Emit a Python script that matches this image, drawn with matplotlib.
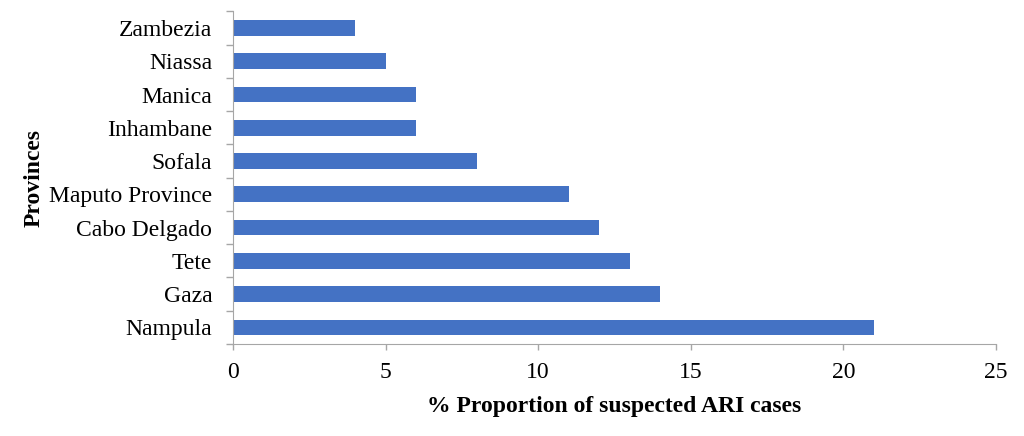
# Horizontal bar chart: suspected ARI cases by province
import numpy as np
import matplotlib.pyplot as plt

plt.rcParams['font.family'] = ['Liberation Serif', 'DejaVu Serif']

provinces = ['Nampula', 'Gaza', 'Tete', 'Cabo Delgado', 'Maputo Province',
             'Sofala', 'Inhambane', 'Manica', 'Niassa', 'Zambezia']
values = [21, 14, 13, 12, 11, 8, 6, 6, 5, 4]

fig = plt.figure(figsize=(10.24, 4.36), dpi=100)
ax = fig.add_axes([0.2275, 0.211, 0.745, 0.763])

y = np.arange(len(provinces))
ax.barh(y, values, height=0.47, color='#4472C4')

ax.set_xlim(0, 25)
ax.set_ylim(-0.5, len(provinces) - 0.5)
ax.set_xticks([0, 5, 10, 15, 20, 25])
ax.set_yticks(y, provinces)
ax.set_yticks(np.arange(-0.5, len(provinces)), minor=True)

ax.tick_params(axis='y', which='major', length=0, pad=15, labelsize=17)
ax.tick_params(axis='y', which='minor', length=5, color='#A6A6A6', width=1)
ax.tick_params(axis='x', length=4, color='#A6A6A6', width=1, pad=9, labelsize=17)

for s in ['top', 'right']:
    ax.spines[s].set_visible(False)
for s in ['left', 'bottom']:
    ax.spines[s].set_color('#A6A6A6')

ax.set_xlabel('% Proportion of suspected ARI cases', fontweight='bold', fontsize=17, labelpad=9)
ax.set_ylabel('Provinces', fontweight='bold', fontsize=17, labelpad=3)

fig.savefig('out.png', dpi=100)
